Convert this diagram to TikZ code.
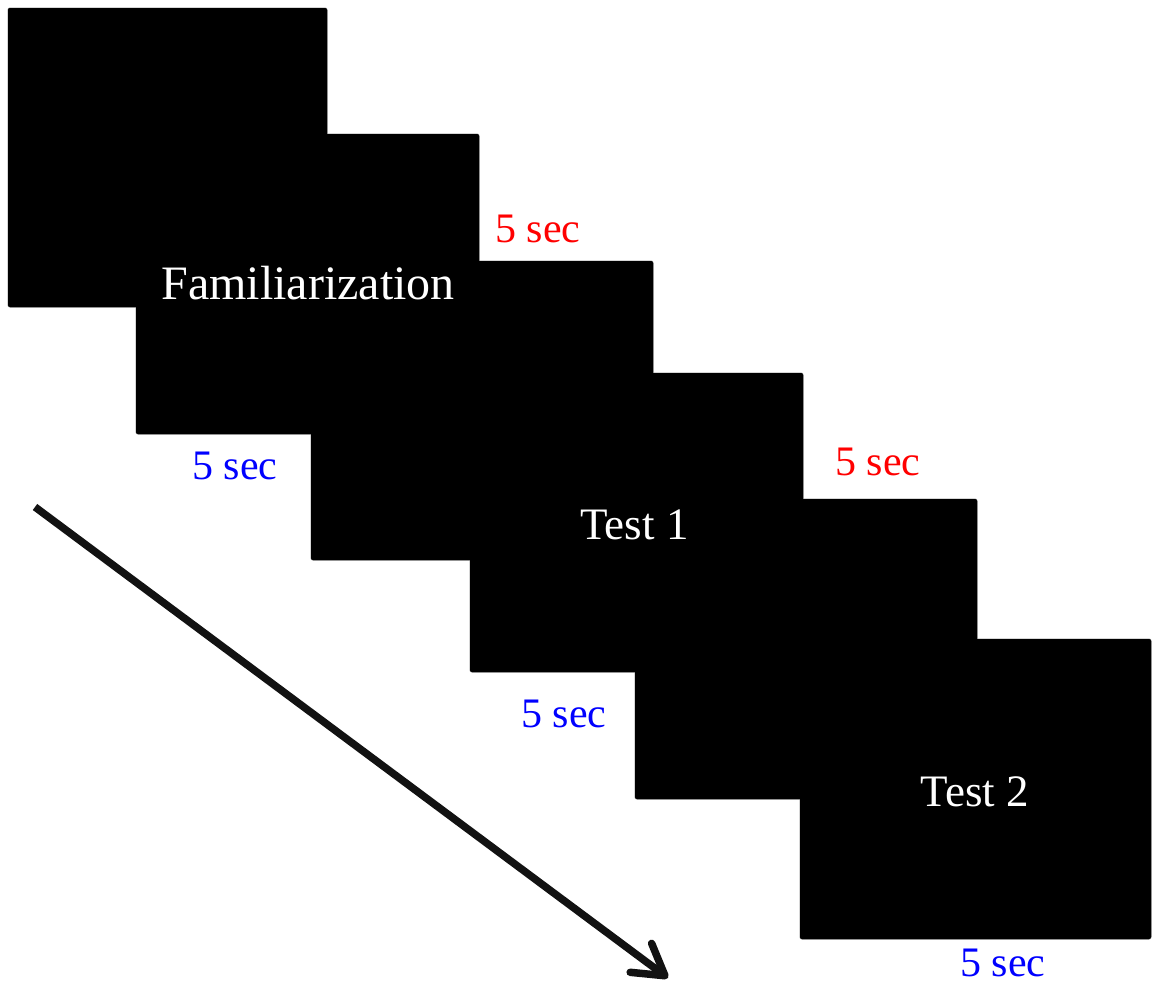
\documentclass[tikz,border=0pt]{standalone}
\usepackage{fontspec}
\setmainfont{Liberation Serif}
\usetikzlibrary{arrows.meta}
\begin{document}
\begin{tikzpicture}[x=1bp,y=-1bp,
  screen/.style={fill=black,draw=black!45,line width=1bp,rounded corners=2bp},
  screenfill/.style={fill=black,rounded corners=2bp},
  label/.style={anchor=base,text=white,font=\fontsize{45bp}{50bp}\selectfont,inner sep=0pt},
  timered/.style={anchor=base,text=red,font=\fontsize{42bp}{46bp}\selectfont,inner sep=0pt},
  timeblue/.style={anchor=base,text=blue,font=\fontsize{42bp}{46bp}\selectfont,inner sep=0pt},
  timearrow/.style={line width=7.5bp,-{Straight Barb[length=30bp,width=36bp,line cap=round,line join=round]},black!93}]
\useasboundingbox (0,0) rectangle (1154,983);
\foreach \a/\b/\c/\d in {8/8/327/307,136/134/479/434,311/261/653/560,470/373/803/672,635/499/977/799,800/639/1151/939}
  \draw[screen] (\a,\b) rectangle (\c,\d);
\foreach \a/\b/\c/\d in {8/8/327/307,136/134/479/434,311/261/653/560,470/373/803/672,635/499/977/799,800/639/1151/939}
  \fill[screenfill] (\a,\b) rectangle (\c,\d);
\node[label,font=\fontsize{48bp}{52bp}\selectfont] (fam) at (308,299) {Familiarization};
\node[label] (t1) at (634.5,539) {Test 1};
\node[label] (t2) at (975,806) {Test 2};
\node[timered] (r1) at (538,242) {5 sec};
\node[timered] (r2) at (878,475) {5 sec};
\node[timeblue] (b1) at (235,479) {5 sec};
\node[timeblue] (b2) at (564,727) {5 sec};
\node[timeblue] (b3) at (1003,976) {5 sec};
\coordinate (as) at (35,507);
\coordinate (ae) at (668,978);
\draw[timearrow] (as) -- (ae);
\end{tikzpicture}
\end{document}
